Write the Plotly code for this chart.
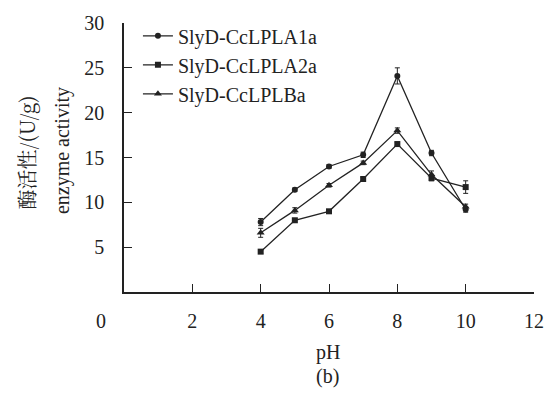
import plotly.graph_objects as go

ph = [4, 5, 6, 7, 8, 9, 10]
names = ["SlyD-CcLPLA1a", "SlyD-CcLPLA2a", "SlyD-CcLPLBa"]
a1 = [7.8, 11.4, 14.0, 15.3, 24.1, 15.5, 9.2]
a1_err = [0.4, 0.2, 0.2, 0.3, 0.9, 0.3, 0.3]
a2 = [4.5, 8.0, 9.0, 12.6, 16.5, 12.7, 11.7]
a2_err = [0.2, 0.2, 0.2, 0.2, 0.2, 0.3, 0.7]
lb = [6.6, 9.1, 11.9, 14.4, 18.0, 13.1, 9.5]
lb_err = [0.5, 0.3, 0.2, 0.2, 0.3, 0.4, 0.3]
x_ticks = [2, 4, 6, 8, 10, 12]
y_ticks = [5, 10, 15, 20, 25, 30]

series = [(names[0], a1, a1_err, "circle", 6),
          (names[1], a2, a2_err, "square", 6),
          (names[2], lb, lb_err, "triangle-up", 7)]

fig = go.Figure()
for nm, ys, er, sym, sz in series:
    fig.add_trace(go.Scatter(
        x=ph, y=ys, name=nm, mode="lines+markers",
        line=dict(color="#222222", width=1.3),
        marker=dict(symbol=sym, size=sz, color="#222222"),
        error_y=dict(type="data", array=er, visible=True, color="#222222", thickness=1, width=2.5),
    ))

serif = "Liberation Serif, Times New Roman, serif"
cjk = "Noto Serif CJK SC, Noto Sans CJK SC, Liberation Serif, serif"
fs = 20
fig.update_layout(
    width=556, height=396,
    margin=dict(l=124, r=18, t=22, b=104),
    paper_bgcolor="white", plot_bgcolor="white",
    font=dict(family=serif, size=fs, color="#222222"),
    showlegend=True,
    legend=dict(x=0.034, y=1.025, xanchor="left", yanchor="top",
                font=dict(family=serif, size=20, color="#222222"),
                bgcolor="rgba(0,0,0,0)", itemwidth=30),
    xaxis=dict(range=[0, 12], tickvals=x_ticks, showgrid=False, zeroline=False,
               showline=True, linecolor="#222222", linewidth=1.5,
               ticks="inside", ticklen=8, tickcolor="#222222", tickwidth=1.2,
               tickfont=dict(family=serif, size=fs, color="#222222"), ticklabelstandoff=10),
    yaxis=dict(range=[0, 30], tickvals=y_ticks, showgrid=False, zeroline=False,
               showline=True, linecolor="#222222", linewidth=1.5,
               ticks="inside", ticklen=8, tickcolor="#222222", tickwidth=1.2,
               tickfont=dict(family=serif, size=fs, color="#222222"), ticklabelstandoff=14),
    annotations=[
        dict(text="0", x=(101 - 124) / 414, y=(292 - 321) / 270, xref="paper", yref="paper",
             showarrow=False, xanchor="center", yanchor="middle",
             font=dict(family=serif, size=fs)),
        dict(text="pH", x=0.497, y=(292 - 353) / 270, xref="paper", yref="paper", showarrow=False,
             font=dict(family=serif, size=fs), xanchor="center", yanchor="middle"),
        dict(text="(b)", x=0.497, y=(292 - 377) / 270, xref="paper", yref="paper", showarrow=False,
             font=dict(family=serif, size=fs), xanchor="center", yanchor="middle"),
        dict(text="酶活性/(U/g)", x=(26 - 124) / 414, y=(292 - 152) / 270, xref="paper", yref="paper",
             showarrow=False, textangle=-90, xanchor="center", yanchor="middle",
             font=dict(size=fs, family=cjk)),
        dict(text="enzyme activity", x=(62 - 124) / 414, y=(292 - 150) / 270, xref="paper", yref="paper",
             showarrow=False, textangle=-90, xanchor="center", yanchor="middle",
             font=dict(size=fs, family=serif)),
    ],
)

fig.write_html("out.html")
